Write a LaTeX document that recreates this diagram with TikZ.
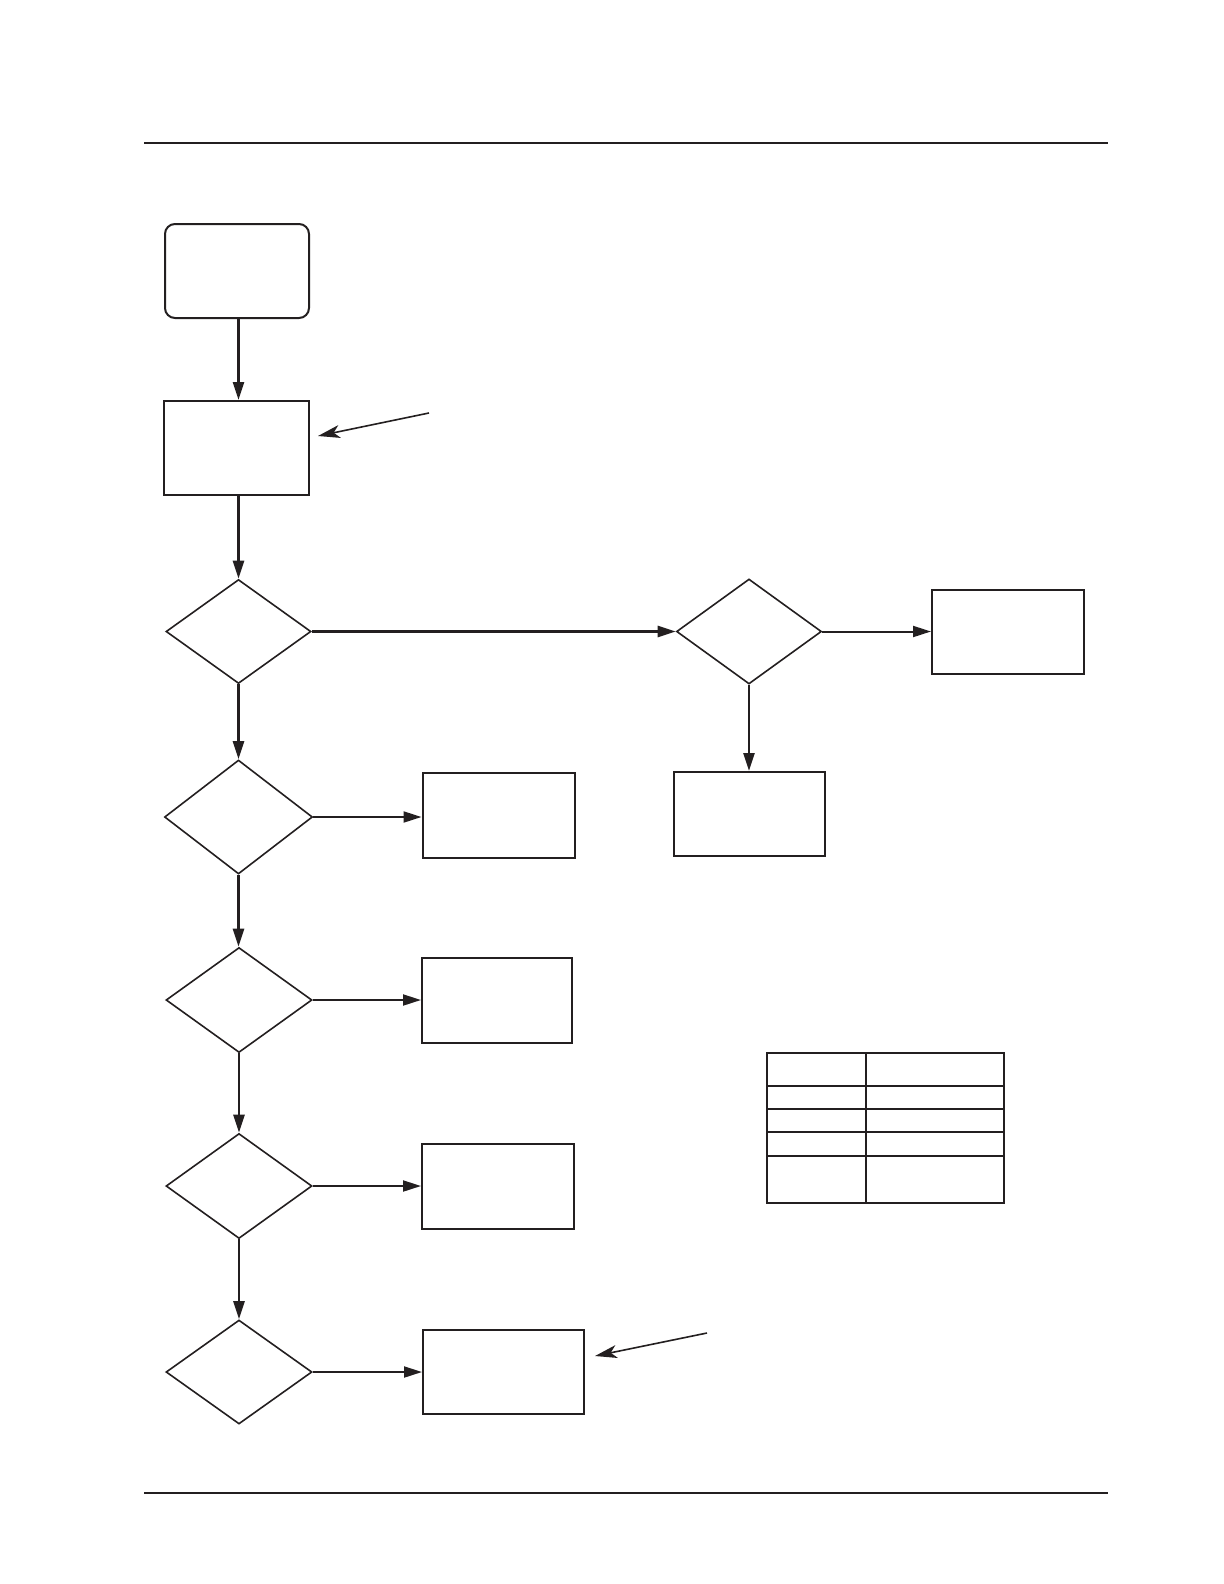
\documentclass[tikz,border=0pt]{standalone}
\usetikzlibrary{shapes.geometric,arrows.meta}
\definecolor{ink}{RGB}{35,31,32}
\begin{document}
\begin{tikzpicture}[x=0.5pt,y=-0.5pt,
  box/.style={draw=ink,line width=1pt,inner sep=0pt,rectangle},
  dec/.style={draw=ink,line width=0.8pt,inner sep=0pt,diamond},
  flow/.style={draw=ink,line width=1.3pt,-{Triangle[length=9pt,width=5.5pt]}},
  side/.style={draw=ink,line width=1pt,-{Triangle[length=9pt,width=5.5pt]}},
  note/.style={draw=ink,line width=0.8pt,-{Stealth[length=11pt,width=6.5pt,inset=3pt]}},
  rule/.style={draw=ink,line width=1pt}]
\useasboundingbox (0,0) rectangle (1224,1584);
% frame lines
\coordinate (t1) at (144,143.4); \coordinate (t2) at (1108,143.4);
\coordinate (b1) at (144,1492.7); \coordinate (b2) at (1108,1492.7);
\draw[rule] (t1) -- (t2);
\draw[rule] (b1) -- (b2);
% nodes
\node[box,rounded corners=5pt,minimum width=72pt,minimum height=47pt] (start) at (237,271) {};
\node[box,minimum width=72.5pt,minimum height=47pt] (B2) at (236.5,448) {};
\node[dec,minimum width=72.5pt,minimum height=52pt] (D1) at (238.5,631.5) {};
\node[dec,minimum width=74pt,minimum height=57pt] (D2) at (238.5,817) {};
\node[dec,minimum width=73pt,minimum height=52.5pt] (D3) at (239,1000) {};
\node[dec,minimum width=73pt,minimum height=52.5pt] (D4) at (239,1186) {};
\node[dec,minimum width=73pt,minimum height=52pt] (D5) at (239,1372) {};
\node[dec,minimum width=72.5pt,minimum height=52.5pt] (DR) at (749,631.5) {};
\node[box,minimum width=76pt,minimum height=42pt] (RR) at (1008,632) {};
\node[box,minimum width=75.5pt,minimum height=42pt] (RB) at (749,814) {};
\node[box,minimum width=76pt,minimum height=42.5pt] (B3) at (498.5,815) {};
\node[box,minimum width=75pt,minimum height=42.5pt] (B4) at (497,1000) {};
\node[box,minimum width=76pt,minimum height=42.5pt] (B5) at (498,1186) {};
\node[box,minimum width=80.5pt,minimum height=42pt] (B6) at (503.5,1372) {};
% connectors
\draw[flow] (start.south -| D1.north) -- (D1.north |- B2.north);
\draw[flow] (B2.south -| D1.north) -- (D1.north);
\draw[flow] (D1.south) -- (D1.south |- D2.north);
\draw[flow] (D2.south) -- (D2.south |- D3.north);
\draw[flow] (D3.south) -- (D4.north);
\draw[flow] (D4.south) -- (D5.north);
\draw[flow,line width=1.3pt] (D1.east) -- (DR.west);
\draw[flow] (DR.south) -- (RB.north);
\draw[side] (DR.east) -- (RR.west |- DR.east);
\draw[side] (D2.east) -- (B3.west |- D2.east);
\draw[side] (D3.east) -- (B4.west);
\draw[side] (D4.east) -- (B5.west);
\draw[side] (D5.east) -- (B6.west);
% annotation arrows
\coordinate (n1s) at (429,413); \coordinate (n1e) at (318,436);
\coordinate (n2s) at (707,1333); \coordinate (n2e) at (595,1356);
\draw[note] (n1s) -- (n1e);
\draw[note] (n2s) -- (n2e);
% table
\draw[rule] (766.7,1053) rectangle (1004,1203.3);
\draw[rule] (865.7,1053) -- (865.7,1203.3);
\foreach \yy in {1085.7,1108.7,1132.3,1156} \draw[rule] (766.7,\yy) -- (1004,\yy);
\end{tikzpicture}
\end{document}
